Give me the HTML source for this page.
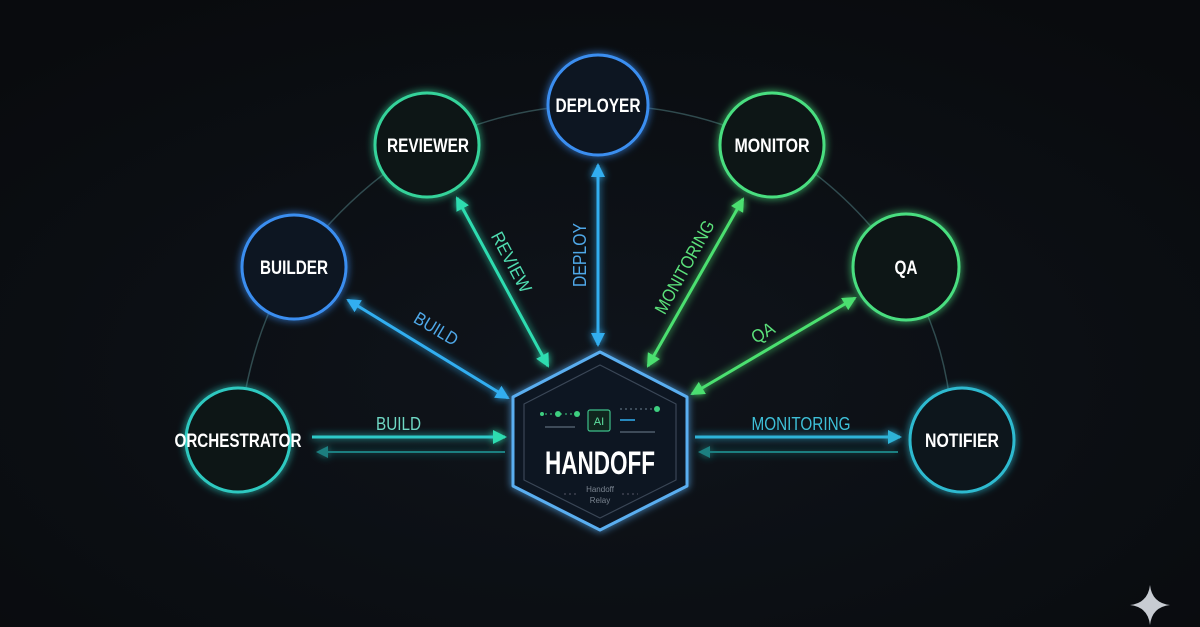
<!DOCTYPE html>
<html><head><meta charset="utf-8"><style>
html,body{margin:0;padding:0;background:#0a0c10;}
svg{display:block;}
text{font-family:"Liberation Sans",sans-serif;}
</style></head><body>
<svg width="1200" height="627" viewBox="0 0 1200 627" xmlns="http://www.w3.org/2000/svg">
<defs>
<radialGradient id="bg" cx="50%" cy="60%" r="70%">
<stop offset="0" stop-color="#0f141b"/><stop offset="1" stop-color="#090b0e"/>
</radialGradient>
<filter id="glow" x="-50%" y="-50%" width="200%" height="200%">
<feGaussianBlur stdDeviation="4" result="b"/>
<feMerge><feMergeNode in="b"/><feMergeNode in="SourceGraphic"/></feMerge>
</filter>
<marker id="mbA" markerWidth="14" markerHeight="14" refX="12" refY="7" orient="auto-start-reverse" markerUnits="userSpaceOnUse"><path d="M0,0 L14,7 L0,14 Z" fill="#30aef0"/></marker>
<marker id="mtA" markerWidth="14" markerHeight="14" refX="12" refY="7" orient="auto-start-reverse" markerUnits="userSpaceOnUse"><path d="M0,0 L14,7 L0,14 Z" fill="#2edcb0"/></marker>
<marker id="mgA" markerWidth="14" markerHeight="14" refX="12" refY="7" orient="auto-start-reverse" markerUnits="userSpaceOnUse"><path d="M0,0 L14,7 L0,14 Z" fill="#4be070"/></marker>
<marker id="mdA" markerWidth="12" markerHeight="12" refX="10" refY="6" orient="auto-start-reverse" markerUnits="userSpaceOnUse"><path d="M0,0 L12,6 L0,12 Z" fill="#1f7f80"/></marker>
<marker id="mbg" markerWidth="14" markerHeight="14" refX="12" refY="7" orient="auto-start-reverse" markerUnits="userSpaceOnUse"><path d="M0,0 L14,7 L0,14 Z" fill="#2eb3d8"/></marker>
</defs>
<rect width="1200" height="627" fill="url(#bg)"/>

<path d="M238,440 Q250,330 294,267 Q350,190 427,145 Q510,105 598,105 Q690,105 772,145 Q850,190 902,267 Q950,340 953,440" fill="none" stroke="#3a5a5e" stroke-width="1.5" opacity="0.8"/>

<g filter="url(#glow)">
<line x1="312" y1="437" x2="505" y2="437" stroke="#2ec9c8" stroke-width="3" marker-end="url(#mtA)"/>
<line x1="505" y1="452" x2="318" y2="452" stroke="#1f7f80" stroke-width="2" marker-end="url(#mdA)"/>
<line x1="348" y1="300" x2="508" y2="398" stroke="#30aef0" stroke-width="3" marker-start="url(#mbA)" marker-end="url(#mbA)"/>
<line x1="457" y1="198" x2="548" y2="366" stroke="#2edcb0" stroke-width="3" marker-start="url(#mtA)" marker-end="url(#mtA)"/>
<line x1="598" y1="165" x2="598" y2="345" stroke="#30aef0" stroke-width="3" marker-start="url(#mbA)" marker-end="url(#mbA)"/>
<line x1="743" y1="199" x2="648" y2="366" stroke="#4be070" stroke-width="3" marker-start="url(#mgA)" marker-end="url(#mgA)"/>
<line x1="855" y1="298" x2="692" y2="394" stroke="#4be070" stroke-width="3" marker-start="url(#mgA)" marker-end="url(#mgA)"/>
<line x1="695" y1="437" x2="900" y2="437" stroke="#2eb3d8" stroke-width="3" marker-end="url(#mbg)"/>
<line x1="898" y1="452" x2="700" y2="452" stroke="#1f7f80" stroke-width="2" marker-end="url(#mdA)"/>
</g>

<g font-size="18" lengthAdjust="spacingAndGlyphs">
<text x="376" y="430" fill="#6fd8c4" textLength="45" lengthAdjust="spacingAndGlyphs">BUILD</text>
<text x="433" y="334" fill="#4fa8e8" transform="rotate(31 433 334)" text-anchor="middle" textLength="48" lengthAdjust="spacingAndGlyphs">BUILD</text>
<text x="506" y="265" fill="#4fdcb0" transform="rotate(62 506 265)" text-anchor="middle" textLength="66" lengthAdjust="spacingAndGlyphs">REVIEW</text>
<text x="586" y="255" fill="#4fa8e8" transform="rotate(-90 586 255)" text-anchor="middle" textLength="64" lengthAdjust="spacingAndGlyphs">DEPLOY</text>
<text x="690" y="270" fill="#5be07a" transform="rotate(-61 690 270)" text-anchor="middle" textLength="104" lengthAdjust="spacingAndGlyphs">MONITORING</text>
<text x="766" y="338" fill="#5be07a" transform="rotate(-30 766 338)" text-anchor="middle" textLength="24" lengthAdjust="spacingAndGlyphs">QA</text>
<text x="801" y="430" fill="#3ec0d8" text-anchor="middle" textLength="99" lengthAdjust="spacingAndGlyphs">MONITORING</text>
</g>

<g filter="url(#glow)" stroke-width="3">
<circle cx="238" cy="440" r="52" fill="#0c1718" stroke="#2ec9c0"/>
<circle cx="294" cy="267" r="52" fill="#0d1524" stroke="#3a8ef0"/>
<circle cx="427" cy="145" r="52" fill="#0d1818" stroke="#34d39a"/>
<circle cx="598" cy="105" r="50" fill="#0d1524" stroke="#3a8ef0"/>
<circle cx="772" cy="145" r="52" fill="#0d1912" stroke="#4ade80"/>
<circle cx="906" cy="267" r="53" fill="#0d1912" stroke="#4ade80"/>
<circle cx="962" cy="440" r="52" fill="#0c171b" stroke="#2ebad0"/>
</g>
<g fill="#fff" font-weight="bold" font-size="19" text-anchor="middle">
<text x="238" y="447" textLength="127" lengthAdjust="spacingAndGlyphs">ORCHESTRATOR</text>
<text x="294" y="274" textLength="68" lengthAdjust="spacingAndGlyphs">BUILDER</text>
<text x="428" y="152" textLength="82" lengthAdjust="spacingAndGlyphs">REVIEWER</text>
<text x="598" y="112" textLength="85" lengthAdjust="spacingAndGlyphs">DEPLOYER</text>
<text x="772" y="152" textLength="75" lengthAdjust="spacingAndGlyphs">MONITOR</text>
<text x="906" y="274" textLength="23" lengthAdjust="spacingAndGlyphs">QA</text>
<text x="962" y="447" textLength="74" lengthAdjust="spacingAndGlyphs">NOTIFIER</text>
</g>

<path d="M600,352 L687,397 L687,486 L600,530 L513,486 L513,397 Z" fill="#0f1620" stroke="#5aaef0" stroke-width="3" stroke-linejoin="round" filter="url(#glow)"/>
<path d="M600,365 L676,404 L676,480 L600,518 L524,480 L524,404 Z" fill="none" stroke="#3a4656" stroke-width="1.2" stroke-linejoin="round"/>
<rect x="588" y="410" width="22" height="21" rx="2" fill="#10261e" stroke="#3ec08a" stroke-width="1.2"/>
<text x="599" y="425" fill="#5ee0a0" font-size="11" text-anchor="middle">AI</text>
<g fill="#3ecf80"><circle cx="542" cy="414" r="2"/><circle cx="558" cy="414" r="3"/><circle cx="577" cy="414" r="3"/><circle cx="657" cy="409" r="3"/></g>
<line x1="545" y1="414" x2="574" y2="414" stroke="#3ecf80" stroke-dasharray="2 3"/>
<line x1="620" y1="409" x2="654" y2="409" stroke="#6a8090" stroke-dasharray="2 3"/>
<line x1="545" y1="427" x2="575" y2="427" stroke="#708090"/>
<line x1="620" y1="420" x2="635" y2="420" stroke="#30aef0" stroke-width="1.5"/>
<line x1="620" y1="432" x2="655" y2="432" stroke="#708090"/>
<text x="600" y="474" fill="#fff" font-weight="bold" font-size="32" text-anchor="middle" textLength="110" lengthAdjust="spacingAndGlyphs">HANDOFF</text>
<text x="600" y="492" fill="#7a8490" font-size="8" text-anchor="middle">Handoff</text>
<text x="600" y="503" fill="#7a8490" font-size="8" text-anchor="middle">Relay</text>
<line x1="564" y1="494" x2="578" y2="494" stroke="#556" stroke-dasharray="2 3"/>
<line x1="622" y1="494" x2="638" y2="494" stroke="#556" stroke-dasharray="2 3"/>

<path d="M1150,585 Q1152,603 1170,605 Q1152,607 1150,625 Q1148,607 1130,605 Q1148,603 1150,585 Z" fill="#c8ccd2"/>
</svg>
</body></html>
